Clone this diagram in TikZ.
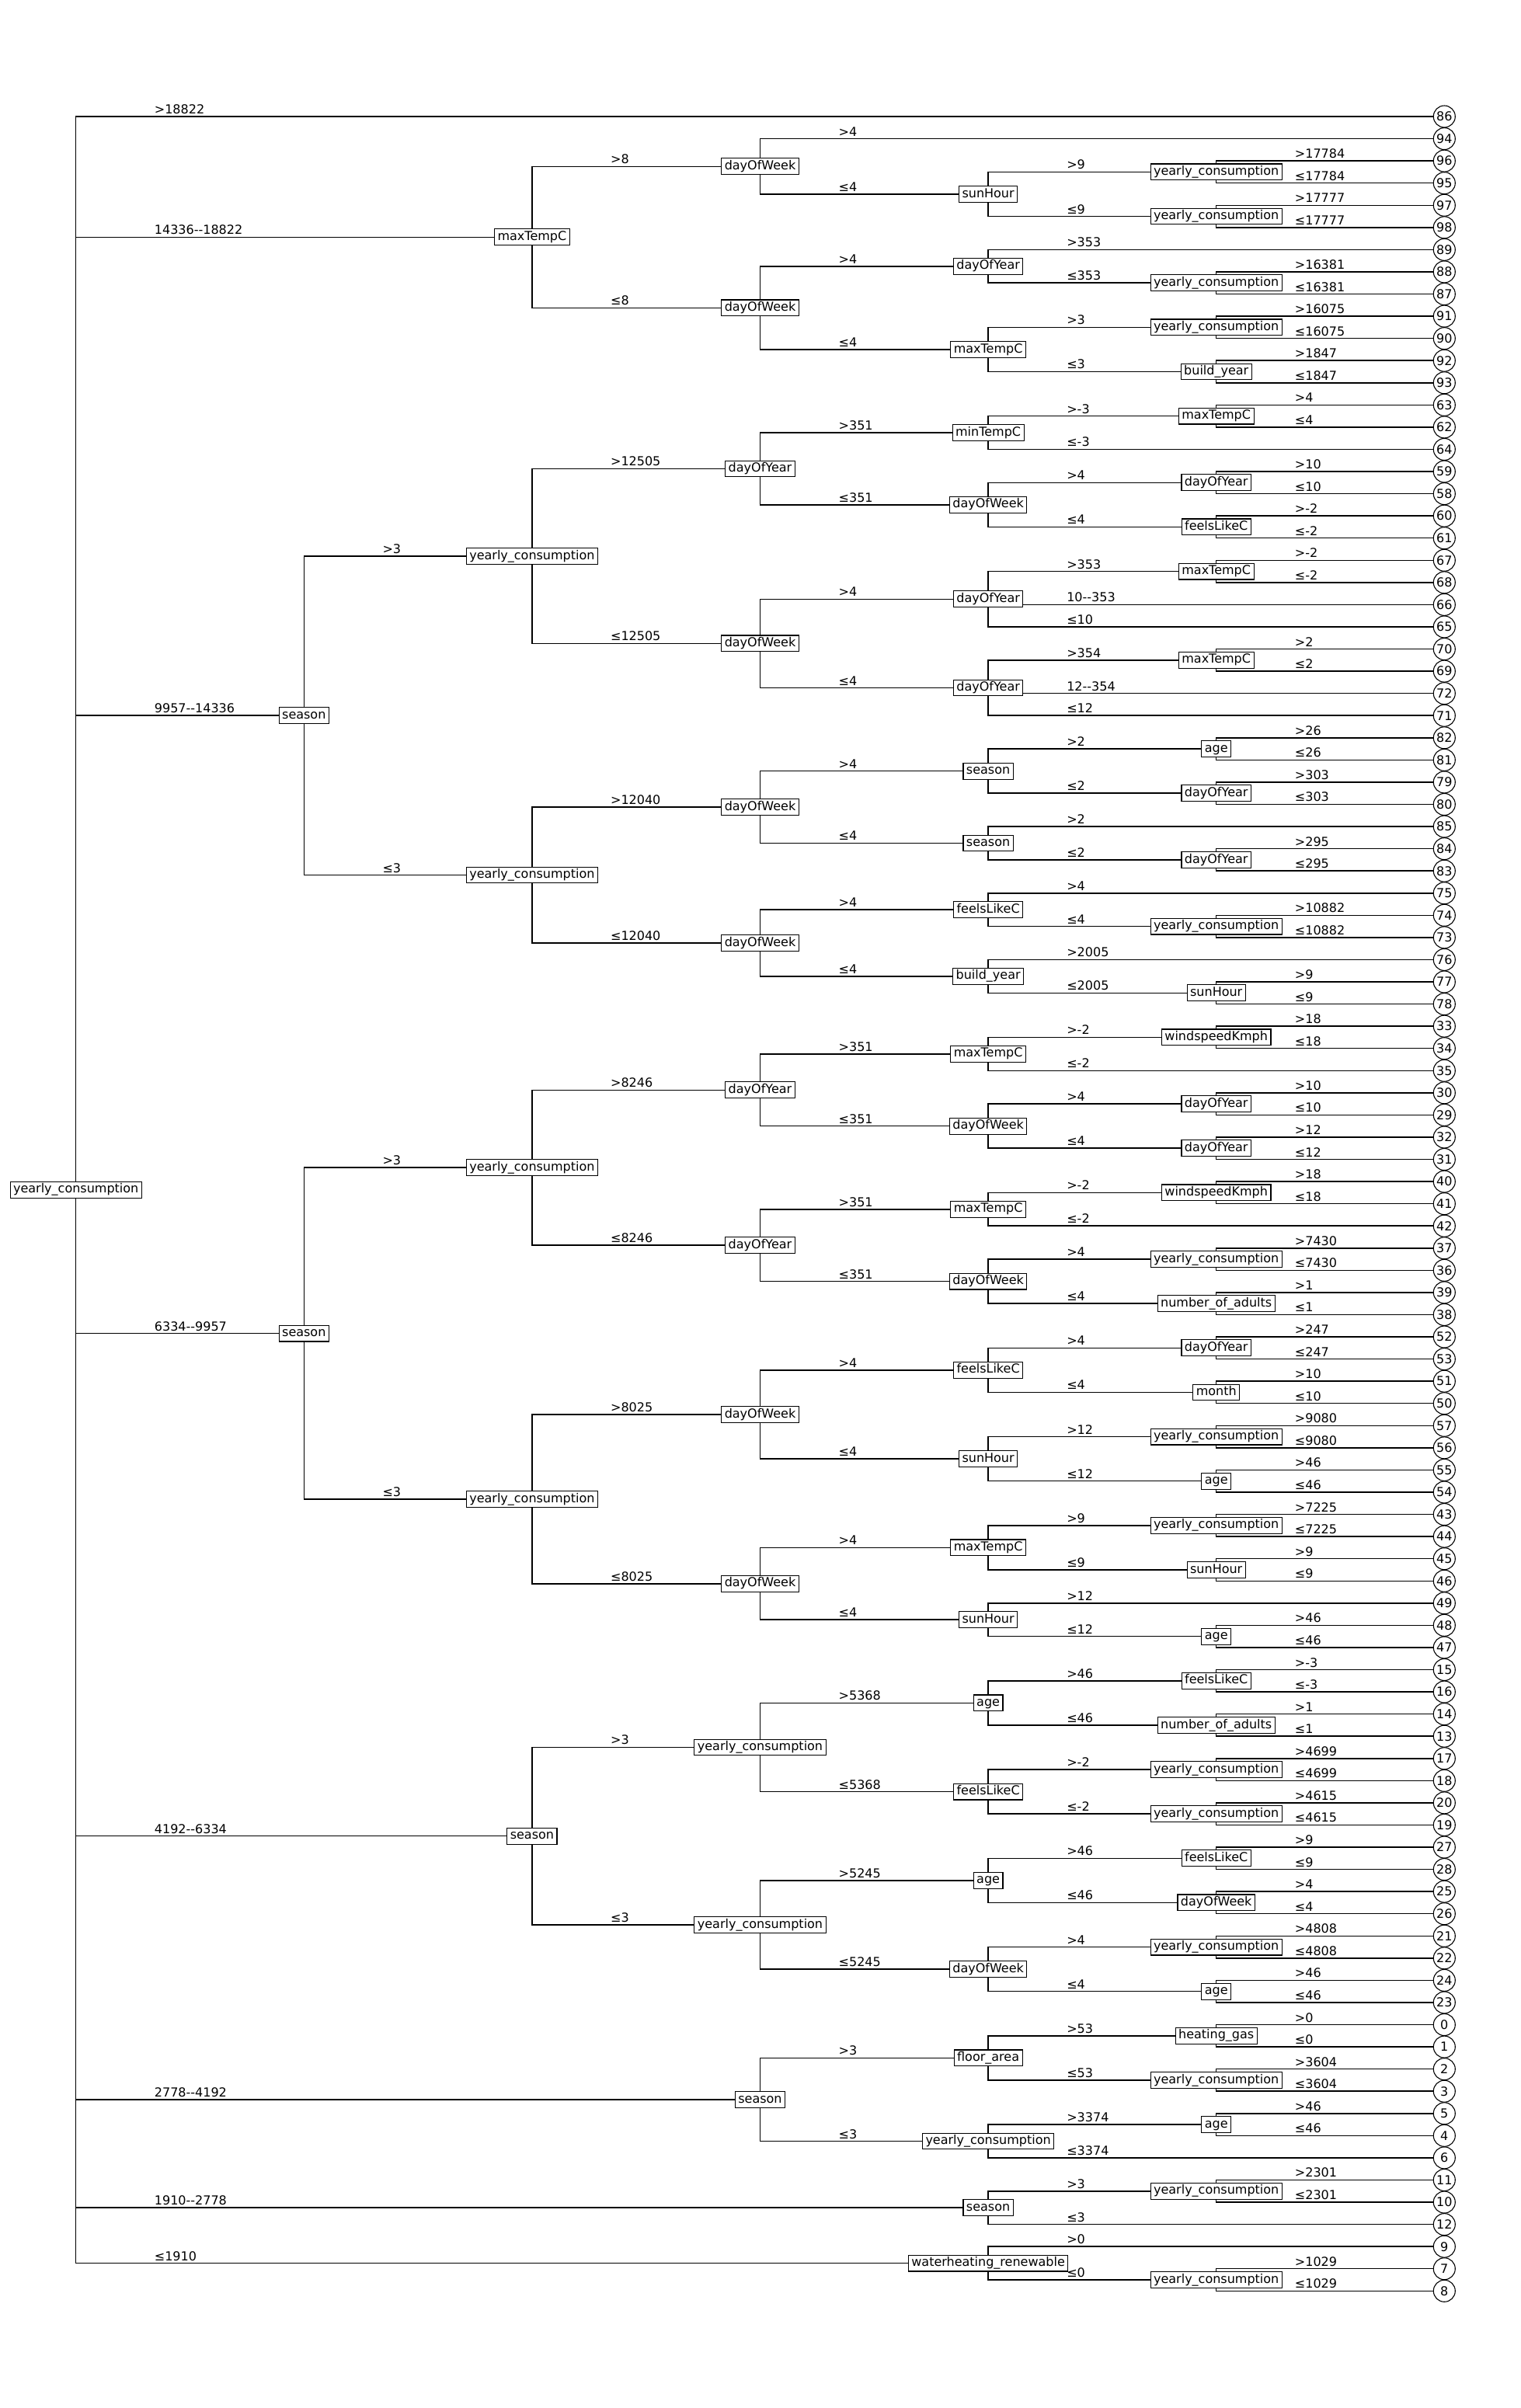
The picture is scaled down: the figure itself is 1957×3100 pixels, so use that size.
\documentclass[tikz,border=0pt]{standalone}
\usepackage{fontspec}
\newfontfamily\dv{DejaVu Sans}
\usetikzlibrary{calc}
\pgfdeclarelayer{bg}
\pgfsetlayers{bg,main}
\tikzset{
  tfont/.style={font=\dv\fontsize{16}{19}\selectfont},
  tn/.style={tfont, draw=black, fill=white, line width=1.1pt, inner xsep=4pt, inner ysep=2.5pt, text height=12pt, text depth=3.8pt},
  lf/.style={tfont, draw=black, fill=white, circle, minimum size=28pt, inner sep=0pt, line width=1.1pt},
  lbl/.style={tfont, anchor=base west, inner sep=0pt},
  edg/.style={line width=1.5pt, black}
}
\newcommand\edgeto[3]{\begin{pgfonlayer}{bg}\draw[edg] (#1.center) |- (#2.center);
  \node[lbl] at ($(#1.center |- #2.center)+(101pt,3.5pt)$) {#3};\end{pgfonlayer}}
\begin{document}
\begin{tikzpicture}
\useasboundingbox (0pt,0pt) rectangle (1957pt,-3100pt);
\begin{scope}[x=293.6pt, y=-28.564pt, shift={(97.7pt,-150pt)}]
% leaves
\foreach \n [count=\r from 0] in {86,94,96,95,97,98,89,88,87,91,90,92,93,63,62,64,59,58,60,61,67,68,66,65,70,69,72,71,82,81,79,80,85,84,83,75,74,73,76,77,78,33,34,35,30,29,32,31,40,41,42,37,36,39,38,52,53,51,50,57,56,55,54,43,44,45,46,49,48,47,15,16,14,13,17,18,20,19,27,28,25,26,21,22,24,23,0,1,2,3,5,4,6,11,10,12,9,7,8}
  \node[lf] (L\n) at (6,\r) {\n};
% root
\node[tn] (root) at (0,48.375) {yearly\_consumption};
% subtree 2
\node[tn] (mA) at (2,5.4375) {maxTempC};
\node[tn] (dwA) at (3,2.25) {dayOfWeek};
\node[tn] (shA) at (4,3.5) {sunHour};
\node[tn] (ycA) at (5,2.5) {yearly\_consumption};
\node[tn] (ycB) at (5,4.5) {yearly\_consumption};
\node[tn] (dwB) at (3,8.625) {dayOfWeek};
\node[tn] (dyA) at (4,6.75) {dayOfYear};
\node[tn] (ycC) at (5,7.5) {yearly\_consumption};
\node[tn] (mB) at (4,10.5) {maxTempC};
\node[tn] (ycD) at (5,9.5) {yearly\_consumption};
\node[tn] (byA) at (5,11.5) {build\_year};
% subtree 3
\node[tn] (sC) at (1,27) {season};
\node[tn] (ycE) at (2,19.8125) {yearly\_consumption};
\node[tn] (ycG) at (2,34.1875) {yearly\_consumption};
\node[tn] (dyB) at (3,15.875) {dayOfYear};
\node[tn] (dwD) at (3,23.75) {dayOfWeek};
\node[tn] (mint) at (4,14.25) {minTempC};
\node[tn] (mC) at (5,13.5) {maxTempC};
\node[tn] (dwC) at (4,17.5) {dayOfWeek};
\node[tn] (dyC) at (5,16.5) {dayOfYear};
\node[tn] (flA) at (5,18.5) {feelsLikeC};
\node[tn] (dyD) at (4,21.75) {dayOfYear};
\node[tn] (mD) at (5,20.5) {maxTempC};
\node[tn] (dyE) at (4,25.75) {dayOfYear};
\node[tn] (mE) at (5,24.5) {maxTempC};
\node[tn] (dwE) at (3,31.125) {dayOfWeek};
\node[tn] (sA) at (4,29.5) {season};
\node[tn] (agA) at (5,28.5) {age};
\node[tn] (dyF) at (5,30.5) {dayOfYear};
\node[tn] (sB) at (4,32.75) {season};
\node[tn] (dyG) at (5,33.5) {dayOfYear};
\node[tn] (dwF) at (3,37.25) {dayOfWeek};
\node[tn] (flB) at (4,35.75) {feelsLikeC};
\node[tn] (ycF) at (5,36.5) {yearly\_consumption};
\node[tn] (byB) at (4,38.75) {build\_year};
\node[tn] (shB) at (5,39.5) {sunHour};
% subtree 4
\node[tn] (sD) at (1,54.84375) {season};
\node[tn] (ycI) at (2,47.375) {yearly\_consumption};
\node[tn] (ycL) at (2,62.3125) {yearly\_consumption};
\node[tn] (dyJ) at (3,43.875) {dayOfYear};
\node[tn] (mF) at (4,42.25) {maxTempC};
\node[tn] (wsA) at (5,41.5) {windspeedKmph};
\node[tn] (dwG) at (4,45.5) {dayOfWeek};
\node[tn] (dyH) at (5,44.5) {dayOfYear};
\node[tn] (dyI) at (5,46.5) {dayOfYear};
\node[tn] (dyK) at (3,50.875) {dayOfYear};
\node[tn] (mG) at (4,49.25) {maxTempC};
\node[tn] (wsB) at (5,48.5) {windspeedKmph};
\node[tn] (dwH) at (4,52.5) {dayOfWeek};
\node[tn] (ycH) at (5,51.5) {yearly\_consumption};
\node[tn] (naA) at (5,53.5) {number\_of\_adults};
\node[tn] (dwI) at (3,58.5) {dayOfWeek};
\node[tn] (flC) at (4,56.5) {feelsLikeC};
\node[tn] (dyL) at (5,55.5) {dayOfYear};
\node[tn] (mo) at (5,57.5) {month};
\node[tn] (shC) at (4,60.5) {sunHour};
\node[tn] (ycJ) at (5,59.5) {yearly\_consumption};
\node[tn] (agB) at (5,61.5) {age};
\node[tn] (dwJ) at (3,66.125) {dayOfWeek};
\node[tn] (mH) at (4,64.5) {maxTempC};
\node[tn] (ycK) at (5,63.5) {yearly\_consumption};
\node[tn] (shD) at (5,65.5) {sunHour};
\node[tn] (shE) at (4,67.75) {sunHour};
\node[tn] (agC) at (5,68.5) {age};
% subtree 5
\node[tn] (sE) at (2,77.5) {season};
\node[tn] (ycO) at (3,73.5) {yearly\_consumption};
\node[tn] (ycQ) at (3,81.5) {yearly\_consumption};
\node[tn] (agD) at (4,71.5) {age};
\node[tn] (flD) at (5,70.5) {feelsLikeC};
\node[tn] (naB) at (5,72.5) {number\_of\_adults};
\node[tn] (flE) at (4,75.5) {feelsLikeC};
\node[tn] (ycM) at (5,74.5) {yearly\_consumption};
\node[tn] (ycN) at (5,76.5) {yearly\_consumption};
\node[tn] (agE) at (4,79.5) {age};
\node[tn] (flF) at (5,78.5) {feelsLikeC};
\node[tn] (dwK) at (5,80.5) {dayOfWeek};
\node[tn] (dwL) at (4,83.5) {dayOfWeek};
\node[tn] (ycP) at (5,82.5) {yearly\_consumption};
\node[tn] (agF) at (5,84.5) {age};
% subtree 6
\node[tn] (sF) at (3,89.375) {season};
\node[tn] (fa) at (4,87.5) {floor\_area};
\node[tn] (hg) at (5,86.5) {heating\_gas};
\node[tn] (ycR) at (5,88.5) {yearly\_consumption};
\node[tn] (ycS) at (4,91.25) {yearly\_consumption};
\node[tn] (agG) at (5,90.5) {age};
% subtree 7
\node[tn] (sG) at (4,94.25) {season};
\node[tn] (ycT) at (5,93.5) {yearly\_consumption};
% subtree 8
\node[tn] (wh) at (4,96.75) {waterheating\_renewable};
\node[tn] (ycU) at (5,97.5) {yearly\_consumption};
\end{scope}
% edges
\edgeto{root}{L86}{>18822}
\edgeto{root}{mA}{14336--18822}
\edgeto{root}{sC}{9957--14336}
\edgeto{root}{sD}{6334--9957}
\edgeto{root}{sE}{4192--6334}
\edgeto{root}{sF}{2778--4192}
\edgeto{root}{sG}{1910--2778}
\edgeto{root}{wh}{≤1910}
\edgeto{mA}{dwA}{>8}
\edgeto{mA}{dwB}{≤8}
\edgeto{dwA}{L94}{>4}
\edgeto{dwA}{shA}{≤4}
\edgeto{shA}{ycA}{>9}
\edgeto{shA}{ycB}{≤9}
\edgeto{ycA}{L96}{>17784}
\edgeto{ycA}{L95}{≤17784}
\edgeto{ycB}{L97}{>17777}
\edgeto{ycB}{L98}{≤17777}
\edgeto{dwB}{dyA}{>4}
\edgeto{dwB}{mB}{≤4}
\edgeto{dyA}{L89}{>353}
\edgeto{dyA}{ycC}{≤353}
\edgeto{ycC}{L88}{>16381}
\edgeto{ycC}{L87}{≤16381}
\edgeto{mB}{ycD}{>3}
\edgeto{mB}{byA}{≤3}
\edgeto{ycD}{L91}{>16075}
\edgeto{ycD}{L90}{≤16075}
\edgeto{byA}{L92}{>1847}
\edgeto{byA}{L93}{≤1847}
% subtree 3
\edgeto{sC}{ycE}{>3}
\edgeto{sC}{ycG}{≤3}
\edgeto{ycE}{dyB}{>12505}
\edgeto{ycE}{dwD}{≤12505}
\edgeto{dyB}{mint}{>351}
\edgeto{dyB}{dwC}{≤351}
\edgeto{mint}{mC}{>-3}
\edgeto{mint}{L64}{≤-3}
\edgeto{mC}{L63}{>4}
\edgeto{mC}{L62}{≤4}
\edgeto{dwC}{dyC}{>4}
\edgeto{dwC}{flA}{≤4}
\edgeto{dyC}{L59}{>10}
\edgeto{dyC}{L58}{≤10}
\edgeto{flA}{L60}{>-2}
\edgeto{flA}{L61}{≤-2}
\edgeto{dwD}{dyD}{>4}
\edgeto{dwD}{dyE}{≤4}
\edgeto{dyD}{mD}{>353}
\edgeto{dyD}{L66}{10--353}
\edgeto{dyD}{L65}{≤10}
\edgeto{mD}{L67}{>-2}
\edgeto{mD}{L68}{≤-2}
\edgeto{dyE}{mE}{>354}
\edgeto{dyE}{L72}{12--354}
\edgeto{dyE}{L71}{≤12}
\edgeto{mE}{L70}{>2}
\edgeto{mE}{L69}{≤2}
\edgeto{ycG}{dwE}{>12040}
\edgeto{ycG}{dwF}{≤12040}
\edgeto{dwE}{sA}{>4}
\edgeto{dwE}{sB}{≤4}
\edgeto{sA}{agA}{>2}
\edgeto{sA}{dyF}{≤2}
\edgeto{agA}{L82}{>26}
\edgeto{agA}{L81}{≤26}
\edgeto{dyF}{L79}{>303}
\edgeto{dyF}{L80}{≤303}
\edgeto{sB}{L85}{>2}
\edgeto{sB}{dyG}{≤2}
\edgeto{dyG}{L84}{>295}
\edgeto{dyG}{L83}{≤295}
\edgeto{dwF}{flB}{>4}
\edgeto{dwF}{byB}{≤4}
\edgeto{flB}{L75}{>4}
\edgeto{flB}{ycF}{≤4}
\edgeto{ycF}{L74}{>10882}
\edgeto{ycF}{L73}{≤10882}
\edgeto{byB}{L76}{>2005}
\edgeto{byB}{shB}{≤2005}
\edgeto{shB}{L77}{>9}
\edgeto{shB}{L78}{≤9}
% subtree 4
\edgeto{sD}{ycI}{>3}
\edgeto{sD}{ycL}{≤3}
\edgeto{ycI}{dyJ}{>8246}
\edgeto{ycI}{dyK}{≤8246}
\edgeto{dyJ}{mF}{>351}
\edgeto{dyJ}{dwG}{≤351}
\edgeto{mF}{wsA}{>-2}
\edgeto{mF}{L35}{≤-2}
\edgeto{wsA}{L33}{>18}
\edgeto{wsA}{L34}{≤18}
\edgeto{dwG}{dyH}{>4}
\edgeto{dwG}{dyI}{≤4}
\edgeto{dyH}{L30}{>10}
\edgeto{dyH}{L29}{≤10}
\edgeto{dyI}{L32}{>12}
\edgeto{dyI}{L31}{≤12}
\edgeto{dyK}{mG}{>351}
\edgeto{dyK}{dwH}{≤351}
\edgeto{mG}{wsB}{>-2}
\edgeto{mG}{L42}{≤-2}
\edgeto{wsB}{L40}{>18}
\edgeto{wsB}{L41}{≤18}
\edgeto{dwH}{ycH}{>4}
\edgeto{dwH}{naA}{≤4}
\edgeto{ycH}{L37}{>7430}
\edgeto{ycH}{L36}{≤7430}
\edgeto{naA}{L39}{>1}
\edgeto{naA}{L38}{≤1}
\edgeto{ycL}{dwI}{>8025}
\edgeto{ycL}{dwJ}{≤8025}
\edgeto{dwI}{flC}{>4}
\edgeto{dwI}{shC}{≤4}
\edgeto{flC}{dyL}{>4}
\edgeto{flC}{mo}{≤4}
\edgeto{dyL}{L52}{>247}
\edgeto{dyL}{L53}{≤247}
\edgeto{mo}{L51}{>10}
\edgeto{mo}{L50}{≤10}
\edgeto{shC}{ycJ}{>12}
\edgeto{shC}{agB}{≤12}
\edgeto{ycJ}{L57}{>9080}
\edgeto{ycJ}{L56}{≤9080}
\edgeto{agB}{L55}{>46}
\edgeto{agB}{L54}{≤46}
\edgeto{dwJ}{mH}{>4}
\edgeto{dwJ}{shE}{≤4}
\edgeto{mH}{ycK}{>9}
\edgeto{mH}{shD}{≤9}
\edgeto{ycK}{L43}{>7225}
\edgeto{ycK}{L44}{≤7225}
\edgeto{shD}{L45}{>9}
\edgeto{shD}{L46}{≤9}
\edgeto{shE}{L49}{>12}
\edgeto{shE}{agC}{≤12}
\edgeto{agC}{L48}{>46}
\edgeto{agC}{L47}{≤46}
% subtree 5
\edgeto{sE}{ycO}{>3}
\edgeto{sE}{ycQ}{≤3}
\edgeto{ycO}{agD}{>5368}
\edgeto{ycO}{flE}{≤5368}
\edgeto{agD}{flD}{>46}
\edgeto{agD}{naB}{≤46}
\edgeto{flD}{L15}{>-3}
\edgeto{flD}{L16}{≤-3}
\edgeto{naB}{L14}{>1}
\edgeto{naB}{L13}{≤1}
\edgeto{flE}{ycM}{>-2}
\edgeto{flE}{ycN}{≤-2}
\edgeto{ycM}{L17}{>4699}
\edgeto{ycM}{L18}{≤4699}
\edgeto{ycN}{L20}{>4615}
\edgeto{ycN}{L19}{≤4615}
\edgeto{ycQ}{agE}{>5245}
\edgeto{ycQ}{dwL}{≤5245}
\edgeto{agE}{flF}{>46}
\edgeto{agE}{dwK}{≤46}
\edgeto{flF}{L27}{>9}
\edgeto{flF}{L28}{≤9}
\edgeto{dwK}{L25}{>4}
\edgeto{dwK}{L26}{≤4}
\edgeto{dwL}{ycP}{>4}
\edgeto{dwL}{agF}{≤4}
\edgeto{ycP}{L21}{>4808}
\edgeto{ycP}{L22}{≤4808}
\edgeto{agF}{L24}{>46}
\edgeto{agF}{L23}{≤46}
% subtree 6
\edgeto{sF}{fa}{>3}
\edgeto{sF}{ycS}{≤3}
\edgeto{fa}{hg}{>53}
\edgeto{fa}{ycR}{≤53}
\edgeto{hg}{L0}{>0}
\edgeto{hg}{L1}{≤0}
\edgeto{ycR}{L2}{>3604}
\edgeto{ycR}{L3}{≤3604}
\edgeto{ycS}{agG}{>3374}
\edgeto{ycS}{L6}{≤3374}
\edgeto{agG}{L5}{>46}
\edgeto{agG}{L4}{≤46}
% subtree 7
\edgeto{sG}{ycT}{>3}
\edgeto{sG}{L12}{≤3}
\edgeto{ycT}{L11}{>2301}
\edgeto{ycT}{L10}{≤2301}
% subtree 8
\edgeto{wh}{L9}{>0}
\edgeto{wh}{ycU}{≤0}
\edgeto{ycU}{L7}{>1029}
\edgeto{ycU}{L8}{≤1029}
\end{tikzpicture}
\end{document}
